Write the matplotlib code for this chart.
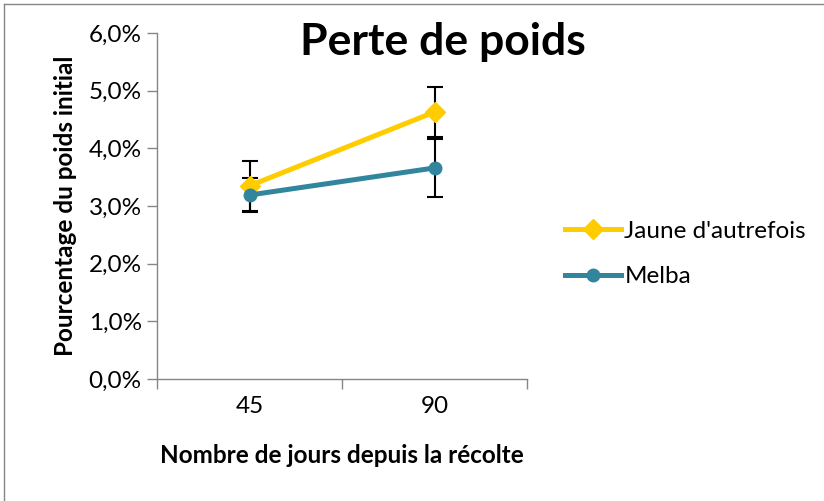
import matplotlib.pyplot as plt
from matplotlib.lines import Line2D
from matplotlib.ticker import FuncFormatter

plt.rcParams['font.family'] = ['Lato', 'DejaVu Sans']

# data
categories = ['45', '90']
jaune = [0.0335, 0.0463]
jaune_err = [0.0043, 0.0043]
melba = [0.0319, 0.0366]
melba_err = [0.0029, 0.0050]

yellow = '#FFCC00'
teal = '#31859C'

fig = plt.figure(figsize=(8.24, 5.01), dpi=100)
ax = fig.add_axes([157 / 824, (501 - 379) / 501, (527 - 157) / 824, (379 - 33) / 501])

xs = [i + 0.5 for i in range(len(categories))]
ax.errorbar(xs, jaune, yerr=jaune_err, fmt='none', ecolor='black', elinewidth=1.5,
            capsize=6, capthick=1.5, zorder=2)
ax.errorbar(xs, melba, yerr=melba_err, fmt='none', ecolor='black', elinewidth=1.5,
            capsize=6, capthick=1.5, zorder=2)
ax.plot(xs, jaune, color=yellow, lw=3.6, marker='D', ms=10, zorder=3)
ax.plot(xs, melba, color=teal, lw=3.6, marker='o', ms=9, zorder=4)

ax.set_xlim(0, len(categories))
ax.set_ylim(0, 0.06)
ax.set_yticks([i / 100 for i in range(7)])
ax.yaxis.set_major_formatter(FuncFormatter(lambda v, p: f'{v * 100:.1f}%'.replace('.', ',')))
ax.set_xticks(range(len(categories) + 1))
ax.set_xticklabels([])
ax.set_xticks(xs, minor=True)
ax.set_xticklabels(categories, minor=True)
ax.tick_params(axis='x', which='minor', length=0, pad=12, labelsize=17.5)
ax.tick_params(axis='x', which='major', length=7, color='#868686', width=1)
ax.tick_params(axis='y', length=7, color='#868686', width=1, labelsize=17.5, pad=4)

for s in ['top', 'right']:
    ax.spines[s].set_visible(False)
for s in ['left', 'bottom']:
    ax.spines[s].set_color('#868686')
    ax.spines[s].set_linewidth(1)

ax.set_ylabel('Pourcentage du poids initial', fontsize=17.5, fontweight='bold', labelpad=8)
ax.set_xlabel('Nombre de jours depuis la récolte', fontsize=17.5, fontweight='bold', labelpad=20)
fig.text(443 / 824, 1 - 42 / 501, 'Perte de poids', fontsize=32, fontweight='bold',
         ha='center', va='center')

handles = [Line2D([], [], color=yellow, lw=3.6, marker='D', ms=10),
           Line2D([], [], color=teal, lw=3.6, marker='o', ms=9)]
fig.legend(handles, ["Jaune d'autrefois", 'Melba'], loc='upper left',
           bbox_to_anchor=(543 / 824, 1 - 199 / 501), frameon=False, fontsize=17.5,
           handlelength=2.3, handletextpad=0.15, labelspacing=1.0)

# outer chart border (top and left visible)
fig.add_artist(Line2D([4 / 824, 4 / 824], [0, 1 - 4 / 501], color='#868686', lw=1))
fig.add_artist(Line2D([4 / 824, 1], [1 - 4 / 501, 1 - 4 / 501], color='#868686', lw=1))

fig.savefig('out.png', dpi=100)
